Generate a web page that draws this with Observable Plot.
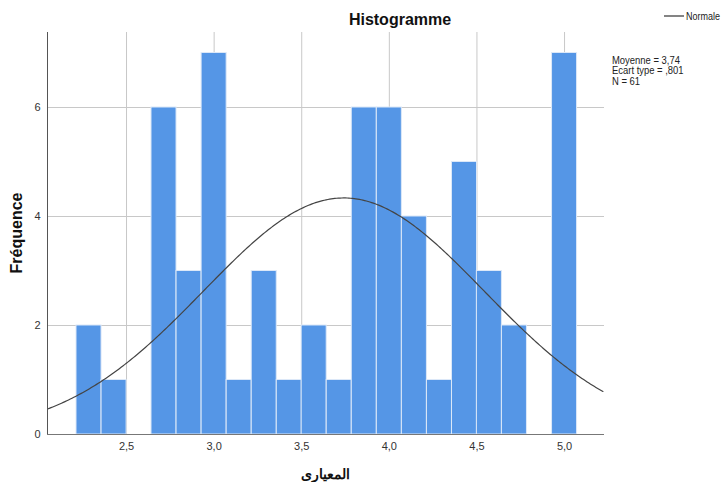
<!DOCTYPE html>
<html>
<head>
<meta charset="utf-8">
<script src="https://cdn.jsdelivr.net/npm/d3@7"></script>
<script src="https://cdn.jsdelivr.net/npm/@observablehq/plot@0.6"></script>
<style>
  html, body { margin: 0; padding: 0; background: #fff; overflow: hidden; }
  #chart { width: 723px; height: 482px; }
  svg { font-family: "Liberation Sans", Arial, sans-serif; }
</style>
</head>
<body>
<div id="chart"></div>
<script>
// ---- data ----
const binCenters = [2.286, 2.429, 2.571, 2.714, 2.857, 3.000, 3.143, 3.286, 3.429, 3.571,
                    3.714, 3.857, 4.000, 4.143, 4.286, 4.429, 4.571, 4.714, 4.857, 5.000];
const counts     = [2, 1, 0, 6, 3, 7, 1, 3, 1, 2, 1, 6, 6, 4, 1, 5, 3, 2, 0, 7];
const binWidth = 1 / 7;
const xTicks = [2.5, 3.0, 3.5, 4.0, 4.5, 5.0];
const yTicks = [0, 2, 4, 6];
const mean = 3.74, sd = 0.801, n = 61;
const statsLines = ["Moyenne = 3,74", "Ecart type = ,801", "N = 61"];
const title = "Histogramme";
const xLabel = "المعيارى";
const yLabel = "Fréquence";
const legendLabel = "Normale";

const bars = binCenters.map((c, i) => ({x1: c - binWidth / 2, x2: c + binWidth / 2, y: counts[i]}))
  .filter(d => d.y > 0);

// fitted normal curve (SPSS overlay) from the stated mean, sd and N
const xDomain = [2.049, 5.228];
const curve = d3.range(xDomain[0], xDomain[1] + 1e-9, 0.01).map(x => ({
  x, y: n * binWidth / (sd * Math.sqrt(2 * Math.PI)) * Math.exp(-0.5 * ((x - mean) / sd) ** 2)
}));

const fmt = v => v === 0 ? "0" : d3.format(".1f")(v).replace(".", ",");

const plot = Plot.plot({
  width: 723,
  height: 482,
  marginLeft: 47,
  marginRight: 119,
  marginTop: 32,
  marginBottom: 48,
  style: {fontFamily: "Liberation Sans, Arial, sans-serif", fontSize: "11px", color: "#333"},
  x: {domain: xDomain, ticks: xTicks, tickFormat: fmt, label: null, tickSize: 0, tickPadding: 8},
  y: {domain: [0, 7.376], ticks: yTicks, tickFormat: d => String(d), label: null, tickSize: 0, tickPadding: 7},
  marks: [
    Plot.gridX(xTicks, {stroke: "#c8c8c8", strokeOpacity: 1, strokeWidth: 1}),
    Plot.gridY(yTicks.filter(d => d > 0), {stroke: "#c8c8c8", strokeOpacity: 1, strokeWidth: 1}),
    Plot.rectY(bars, {x1: "x1", x2: "x2", y: "y", fill: "#5596e6", stroke: "#dce8f8", strokeWidth: 1}),
    Plot.line(curve, {x: "x", y: "y", stroke: "#444", strokeWidth: 1.2}),
    Plot.ruleX([xDomain[0]], {stroke: "#555", strokeWidth: 1}),
    Plot.ruleY([0], {stroke: "#777", strokeWidth: 1.2}),
    Plot.axisX({ticks: xTicks, tickFormat: fmt, tickSize: 0, tickPadding: 8, fill: "#333"}),
    Plot.axisY({ticks: yTicks, tickFormat: d => String(d), tickSize: 0, tickPadding: 7, fill: "#333"})
  ]
});

document.getElementById("chart").appendChild(plot);

const svg = d3.select(plot);
svg.append("text").attr("x", 400).attr("y", 25).attr("text-anchor", "middle")
  .attr("font-size", 16).attr("font-weight", "bold").attr("fill", "#111").text(title);
svg.append("text").attr("transform", "translate(22,233) rotate(-90)").attr("text-anchor", "middle")
  .attr("font-size", 16).attr("font-weight", "bold").attr("fill", "#111").text(yLabel);
svg.append("text").attr("x", 325).attr("y", 479).attr("text-anchor", "middle")
  .attr("font-size", 14).attr("font-weight", "bold").attr("fill", "#111").attr("direction", "rtl").text(xLabel);
// legend (shifted slightly left so the full label fits)
svg.append("line").attr("x1", 664).attr("x2", 684).attr("y1", 16).attr("y2", 16)
  .attr("stroke", "#333").attr("stroke-width", 1.2);
svg.append("g").attr("transform", "translate(686,20) scale(0.86,1)")
  .append("text").attr("font-size", 10.5).attr("text-anchor", "start").attr("fill", "#222").text(legendLabel);
// stats (condensed like the reference)
const stats = svg.append("g").attr("transform", "translate(612,0) scale(0.9,1)");
statsLines.forEach((s, i) => {
  stats.append("text").attr("x", 0).attr("y", 64 + i * 10.5).attr("font-size", 10.5).attr("text-anchor", "start")
    .attr("fill", "#222").text(s);
});
</script>
</body>
</html>
